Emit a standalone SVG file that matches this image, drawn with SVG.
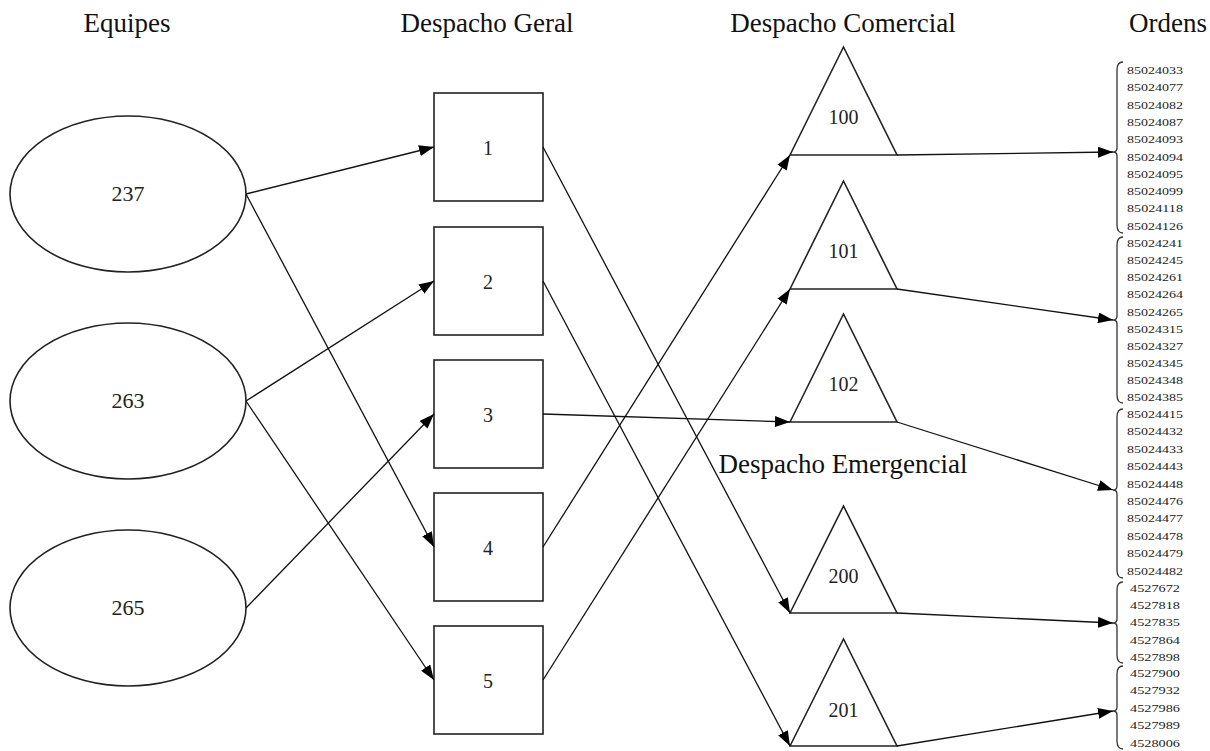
<svg xmlns="http://www.w3.org/2000/svg" width="1210" height="751" viewBox="0 0 1210 751">
<defs>
<marker id="ah" markerUnits="userSpaceOnUse" markerWidth="15" markerHeight="11" refX="15" refY="5.5" orient="auto">
<path d="M0,0 L15,5.5 L0,11 z" fill="#000"/>
</marker>
<style>
.shape{fill:#fff;stroke:#222;stroke-width:1.6}
.conn{fill:none;stroke:#111;stroke-width:1.3;marker-end:url(#ah)}
.brace{fill:none;stroke:#333;stroke-width:1.3}
.hdr{font-family:"Liberation Serif","Times New Roman",serif;font-size:27px;fill:#111;text-anchor:middle}
.lbl{font-family:"Liberation Serif","Times New Roman",serif;font-size:20px;fill:#222;text-anchor:middle}
.num{font-family:"Liberation Serif","Times New Roman",serif;font-size:10.5px;fill:#222}
</style>
</defs>
<rect width="1210" height="751" fill="#fff"/>

<g id="headers">
<text class="hdr" x="127" y="32">Equipes</text>
<text class="hdr" x="487" y="32">Despacho Geral</text>
<text class="hdr" x="843" y="32">Despacho Comercial</text>
<text class="hdr" x="1168" y="32">Ordens</text>
<text class="hdr" x="843" y="473">Despacho Emergencial</text>
</g>

<g id="e237"><ellipse class="shape" cx="128" cy="194" rx="118" ry="78"/><text class="lbl" x="128" y="201" style="font-size:22px">237</text></g>
<g id="e263"><ellipse class="shape" cx="128" cy="401" rx="118" ry="78"/><text class="lbl" x="128" y="408" style="font-size:22px">263</text></g>
<g id="e265"><ellipse class="shape" cx="128" cy="608" rx="118" ry="78"/><text class="lbl" x="128" y="615" style="font-size:22px">265</text></g>

<g id="b1"><rect class="shape" x="434" y="93" width="109" height="108"/><text class="lbl" x="488" y="155">1</text></g>
<g id="b2"><rect class="shape" x="434" y="227" width="109" height="108"/><text class="lbl" x="488" y="289">2</text></g>
<g id="b3"><rect class="shape" x="434" y="360" width="109" height="108"/><text class="lbl" x="488" y="422">3</text></g>
<g id="b4"><rect class="shape" x="434" y="493" width="109" height="108"/><text class="lbl" x="488" y="555">4</text></g>
<g id="b5"><rect class="shape" x="434" y="626" width="109" height="108"/><text class="lbl" x="488" y="688">5</text></g>

<g id="t100"><polygon class="shape" points="790,155 843.5,47 897,155"/><text class="lbl" x="843.5" y="124">100</text></g>
<g id="t101"><polygon class="shape" points="790,289 843.5,181 897,289"/><text class="lbl" x="843.5" y="258">101</text></g>
<g id="t102"><polygon class="shape" points="790,422 843.5,314 897,422"/><text class="lbl" x="843.5" y="391">102</text></g>
<g id="t200"><polygon class="shape" points="790,613 843.5,506 897,613"/><text class="lbl" x="843.5" y="583">200</text></g>
<g id="t201"><polygon class="shape" points="790,746 843.5,639 897,746"/><text class="lbl" x="843.5" y="717">201</text></g>

<g id="connectors">
<path class="conn" d="M246 194 L434 147"/>
<path class="conn" d="M246 194 L434 547"/>
<path class="conn" d="M246 401 L434 281"/>
<path class="conn" d="M246 401 L434 680"/>
<path class="conn" d="M246 608 L434 414"/>
<path class="conn" d="M543 147 L790 613"/>
<path class="conn" d="M543 281 L790 746"/>
<path class="conn" d="M543 414 L790 422"/>
<path class="conn" d="M543 547 L790 155"/>
<path class="conn" d="M543 680 L790 289"/>
<path class="conn" d="M897 155 L1113 152"/>
<path class="conn" d="M897 289 L1113 320"/>
<path class="conn" d="M897 422 L1113 490"/>
<path class="conn" d="M897 613 L1113 623"/>
<path class="conn" d="M897 746 L1113 711"/>
</g>

<g id="ordens1">
<path class="brace" d="M1123 62 Q1117 62 1117 70 L1117 148 Q1117 152 1113 152 Q1117 152 1117 156 L1117 225 Q1117 233 1123 233"/>
<text class="num" x="1127" y="74" textLength="56" lengthAdjust="spacingAndGlyphs">85024033</text>
<text class="num" x="1127" y="91" textLength="56" lengthAdjust="spacingAndGlyphs">85024077</text>
<text class="num" x="1127" y="109" textLength="56" lengthAdjust="spacingAndGlyphs">85024082</text>
<text class="num" x="1127" y="126" textLength="56" lengthAdjust="spacingAndGlyphs">85024087</text>
<text class="num" x="1127" y="143" textLength="56" lengthAdjust="spacingAndGlyphs">85024093</text>
<text class="num" x="1127" y="161" textLength="56" lengthAdjust="spacingAndGlyphs">85024094</text>
<text class="num" x="1127" y="178" textLength="56" lengthAdjust="spacingAndGlyphs">85024095</text>
<text class="num" x="1127" y="195" textLength="56" lengthAdjust="spacingAndGlyphs">85024099</text>
<text class="num" x="1127" y="212" textLength="56" lengthAdjust="spacingAndGlyphs">85024118</text>
<text class="num" x="1127" y="230" textLength="56" lengthAdjust="spacingAndGlyphs">85024126</text>
</g>
<g id="ordens2">
<path class="brace" d="M1123 237 Q1117 237 1117 245 L1117 316 Q1117 320 1113 320 Q1117 320 1117 324 L1117 395 Q1117 403 1123 403"/>
<text class="num" x="1127" y="247" textLength="56" lengthAdjust="spacingAndGlyphs">85024241</text>
<text class="num" x="1127" y="264" textLength="56" lengthAdjust="spacingAndGlyphs">85024245</text>
<text class="num" x="1127" y="281" textLength="56" lengthAdjust="spacingAndGlyphs">85024261</text>
<text class="num" x="1127" y="298" textLength="56" lengthAdjust="spacingAndGlyphs">85024264</text>
<text class="num" x="1127" y="316" textLength="56" lengthAdjust="spacingAndGlyphs">85024265</text>
<text class="num" x="1127" y="333" textLength="56" lengthAdjust="spacingAndGlyphs">85024315</text>
<text class="num" x="1127" y="350" textLength="56" lengthAdjust="spacingAndGlyphs">85024327</text>
<text class="num" x="1127" y="367" textLength="56" lengthAdjust="spacingAndGlyphs">85024345</text>
<text class="num" x="1127" y="384" textLength="56" lengthAdjust="spacingAndGlyphs">85024348</text>
<text class="num" x="1127" y="401" textLength="56" lengthAdjust="spacingAndGlyphs">85024385</text>
</g>
<g id="ordens3">
<path class="brace" d="M1123 409 Q1117 409 1117 417 L1117 486 Q1117 490 1113 490 Q1117 490 1117 494 L1117 570 Q1117 578 1123 578"/>
<text class="num" x="1127" y="418" textLength="56" lengthAdjust="spacingAndGlyphs">85024415</text>
<text class="num" x="1127" y="435" textLength="56" lengthAdjust="spacingAndGlyphs">85024432</text>
<text class="num" x="1127" y="453" textLength="56" lengthAdjust="spacingAndGlyphs">85024433</text>
<text class="num" x="1127" y="470" textLength="56" lengthAdjust="spacingAndGlyphs">85024443</text>
<text class="num" x="1127" y="488" textLength="56" lengthAdjust="spacingAndGlyphs">85024448</text>
<text class="num" x="1127" y="505" textLength="56" lengthAdjust="spacingAndGlyphs">85024476</text>
<text class="num" x="1127" y="522" textLength="56" lengthAdjust="spacingAndGlyphs">85024477</text>
<text class="num" x="1127" y="540" textLength="56" lengthAdjust="spacingAndGlyphs">85024478</text>
<text class="num" x="1127" y="557" textLength="56" lengthAdjust="spacingAndGlyphs">85024479</text>
<text class="num" x="1127" y="575" textLength="56" lengthAdjust="spacingAndGlyphs">85024482</text>
</g>
<g id="ordens4">
<path class="brace" d="M1123 582 Q1117 582 1117 590 L1117 619 Q1117 623 1113 623 Q1117 623 1117 627 L1117 655 Q1117 663 1123 663"/>
<text class="num" x="1130" y="592" textLength="50" lengthAdjust="spacingAndGlyphs">4527672</text>
<text class="num" x="1130" y="609" textLength="50" lengthAdjust="spacingAndGlyphs">4527818</text>
<text class="num" x="1130" y="626" textLength="50" lengthAdjust="spacingAndGlyphs">4527835</text>
<text class="num" x="1130" y="644" textLength="50" lengthAdjust="spacingAndGlyphs">4527864</text>
<text class="num" x="1130" y="661" textLength="50" lengthAdjust="spacingAndGlyphs">4527898</text>
</g>
<g id="ordens5">
<path class="brace" d="M1123 666 Q1117 666 1117 674 L1117 707 Q1117 711 1113 711 Q1117 711 1117 715 L1117 741 Q1117 749 1123 749"/>
<text class="num" x="1130" y="677" textLength="50" lengthAdjust="spacingAndGlyphs">4527900</text>
<text class="num" x="1130" y="694" textLength="50" lengthAdjust="spacingAndGlyphs">4527932</text>
<text class="num" x="1130" y="712" textLength="50" lengthAdjust="spacingAndGlyphs">4527986</text>
<text class="num" x="1130" y="729" textLength="50" lengthAdjust="spacingAndGlyphs">4527989</text>
<text class="num" x="1130" y="747" textLength="50" lengthAdjust="spacingAndGlyphs">4528006</text>
</g>
</svg>
